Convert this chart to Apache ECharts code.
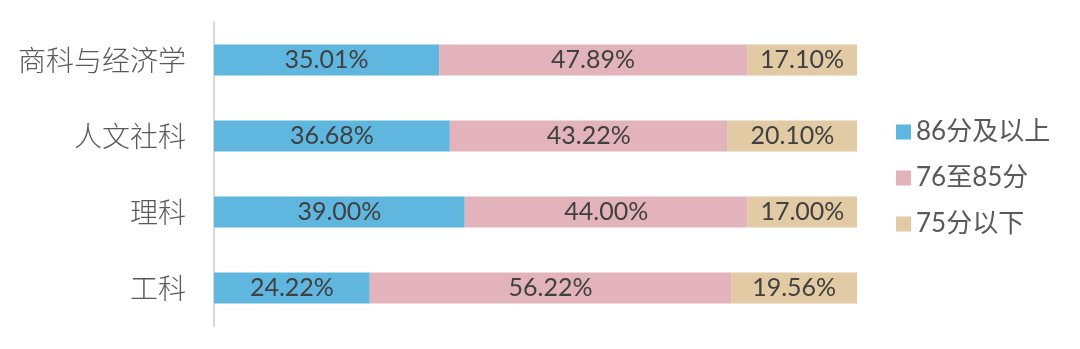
<!DOCTYPE html>
<html><head><meta charset="utf-8">
<script src="https://cdn.jsdelivr.net/npm/echarts@6/dist/echarts.min.js"></script>
<style>html,body{margin:0;padding:0;background:#fff}#c{width:1080px;height:349px}</style>
</head><body><div id="c"></div>
<script>
const categories = ['商科与经济学', '人文社科', '理科', '工科'];
const seriesNames = ['86分及以上', '76至85分', '75分以下'];
const high = [35.01, 36.68, 39.00, 24.22];
const mid = [47.89, 43.22, 44.00, 56.22];
const low = [17.10, 20.10, 17.00, 19.56];
const colors = ['#5fb6de', '#e2b3bb', '#e2cba4'];

const chart = echarts.init(document.getElementById('c'));
const mk = (name, data, color) => ({
  name, type: 'bar', stack: 'total', data, barWidth: 31,
  itemStyle: { color },
  label: { show: true, position: 'inside', color: '#404040', fontSize: 25,
    fontFamily: 'Lato, "Open Sans", sans-serif',
    formatter: p => p.value.toFixed(2) + '%' }
});
chart.setOption({
  animation: false,
  grid: { left: 214, right: 223, top: 22, bottom: 23 },
  xAxis: { type: 'value', min: 0, max: 100, show: false },
  yAxis: { type: 'category', data: categories, inverse: true,
    axisLine: { show: true, lineStyle: { color: '#d9d9d9', width: 2 } },
    axisTick: { show: false },
    axisLabel: { color: '#595959', fontSize: 28, margin: 28,
      fontFamily: '"Noto Sans CJK SC", sans-serif', fontWeight: 300 } },
  legend: { orient: 'vertical', left: 891, top: 114, itemWidth: 15, itemHeight: 15,
    itemGap: 20, icon: 'rect',
    textStyle: { color: '#595959', fontSize: 26, fontFamily: 'Lato, "Noto Sans CJK SC", sans-serif' },
    data: seriesNames },
  series: [mk(seriesNames[0], high, colors[0]), mk(seriesNames[1], mid, colors[1]), mk(seriesNames[2], low, colors[2])]
});
</script></body></html>
